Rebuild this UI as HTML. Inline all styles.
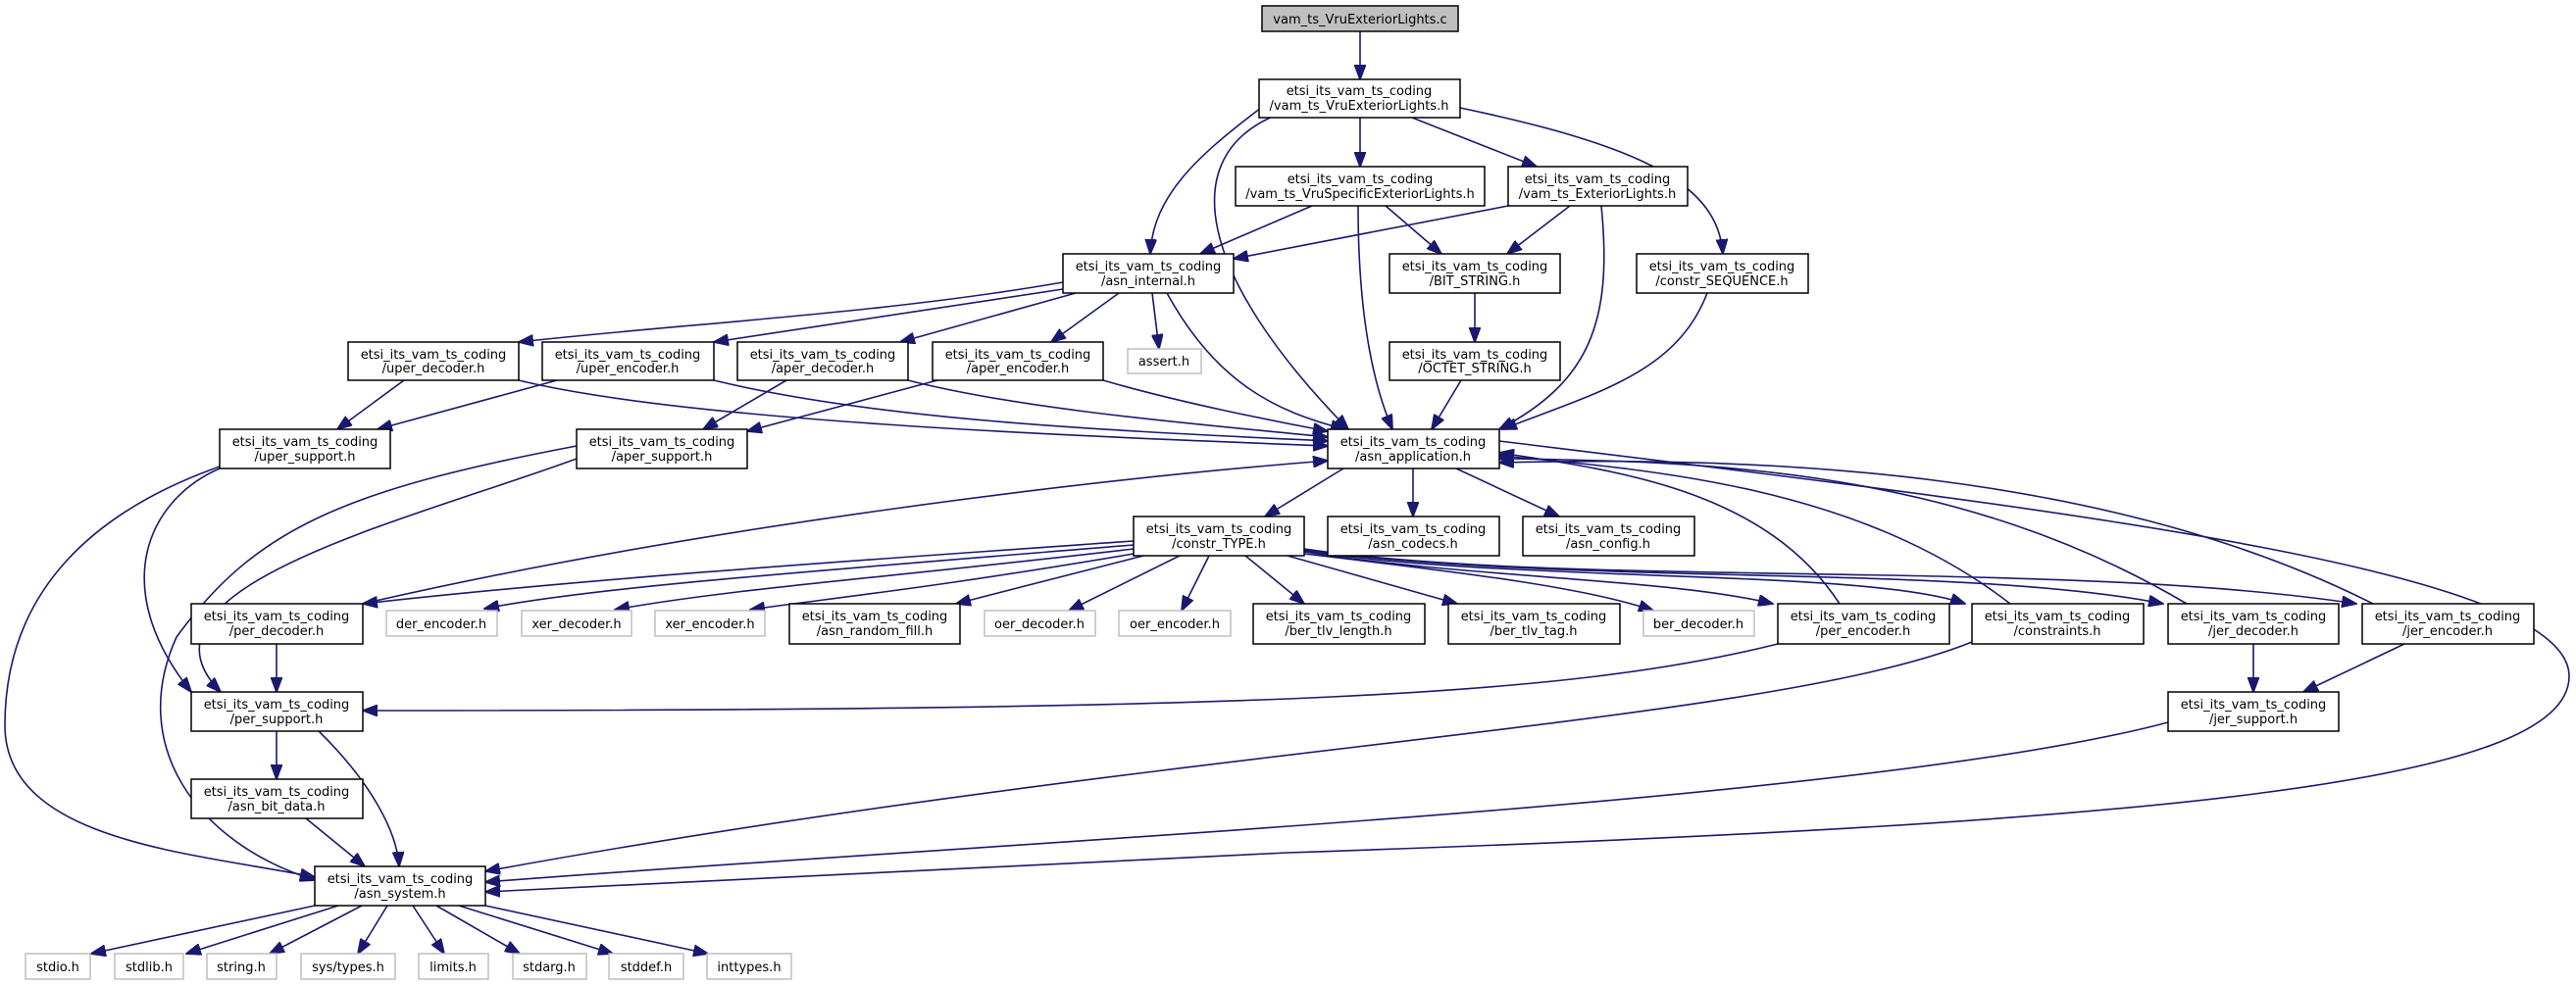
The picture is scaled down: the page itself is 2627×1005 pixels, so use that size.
<!DOCTYPE html>
<html><head><meta charset="utf-8"><style>
html,body{margin:0;padding:0;background:#fff;}
svg{display:block;}
text{font-family:"DejaVu Sans","Liberation Sans",sans-serif;font-size:13px;fill:#000;text-anchor:middle;}
.n{fill:#fff;stroke:#000;stroke-width:1.5;}
.g{fill:#fff;stroke:#bfbfbf;stroke-width:1.5;}
.e{fill:none;stroke:#191970;stroke-width:1.6;marker-end:url(#a);}
</style></head><body>
<svg width="2627" height="1005" viewBox="0 0 2627 1005" xmlns="http://www.w3.org/2000/svg">
<defs><marker id="a" markerUnits="userSpaceOnUse" markerWidth="16" markerHeight="12" refX="15" refY="6" orient="auto"><path d="M0,0 L16,6 L0,12 z" fill="#191970" stroke="#191970"/></marker></defs>

<path class="e" d="M1387,32 L1387,81"/>
<path class="e" d="M1286,110 C1220,160 1176,200 1173,259"/>
<path class="e" d="M1300,118 C1200,160 1220,280 1375,438"/>
<path class="e" d="M1387,120 L1387,170"/>
<path class="e" d="M1440,120 L1567,170"/>
<path class="e" d="M1489,110 C1680,150 1752,190 1757,259"/>
<path class="e" d="M1338,210 L1224,259"/>
<path class="e" d="M1413,210 L1470,259"/>
<path class="e" d="M1385,210 C1385,300 1395,380 1420,438"/>
<path class="e" d="M1538,210 L1258,264"/>
<path class="e" d="M1601,210 L1537,259"/>
<path class="e" d="M1633,210 C1645,330 1620,390 1529,438"/>
<path class="e" d="M1741,299 C1710,380 1630,400 1532,438"/>
<path class="e" d="M1504,299 L1504,349"/>
<path class="e" d="M1490,388 L1460,438"/>
<path class="e" d="M1084,288 C900,320 700,330 529,349"/>
<path class="e" d="M1084,295 L728,349"/>
<path class="e" d="M1097,299 L918,349"/>
<path class="e" d="M1141,299 L1072,349"/>
<path class="e" d="M1175,299 L1182,356"/>
<path class="e" d="M1190,299 C1240,390 1300,420 1372,438"/>
<path class="e" d="M412,388 L344,438"/>
<path class="e" d="M568,388 L385,438"/>
<path class="e" d="M802,388 L717,438"/>
<path class="e" d="M956,388 L762,440"/>
<path class="e" d="M529,388 C700,430 1100,445 1354,455"/>
<path class="e" d="M728,388 C900,430 1150,440 1354,450"/>
<path class="e" d="M926,388 C1050,420 1250,435 1354,446"/>
<path class="e" d="M1125,388 C1200,410 1300,430 1354,440"/>
<path class="e" d="M224,476 C100,520 5,600 5,740 C5,860 200,870 321,895"/>
<path class="e" d="M224,478 C150,510 110,600 195,706"/>
<path class="e" d="M588,468 C420,530 120,600 225,706"/>
<path class="e" d="M588,455 C350,500 260,540 180,650 C130,760 200,860 321,898"/>
<path class="e" d="M282,657 L282,706"/>
<path class="e" d="M282,746 L282,795"/>
<path class="e" d="M325,746 C380,800 405,850 407,884"/>
<path class="e" d="M312,835 L372,884"/>
<path class="e" d="M1813,657 C1600,710 1300,725 370,725"/>
<path class="e" d="M2011,655 C1800,740 1200,760 495,889"/>
<path class="e" d="M2211,737 C1900,820 1000,860 495,900"/>
<path class="e" d="M1529,450 C2100,520 2620,580 2620,690 C2620,800 2200,840 1313,870 C900,890 600,905 495,910"/>
<path class="e" d="M1370,478 L1290,527"/>
<path class="e" d="M1441,478 L1441,527"/>
<path class="e" d="M1485,478 L1590,527"/>
<path class="e" d="M370,616 C700,540 1100,490 1354,470"/>
<path class="e" d="M1876,616 C1800,500 1650,480 1529,462"/>
<path class="e" d="M2050,616 C1900,500 1700,480 1529,465"/>
<path class="e" d="M2230,616 C2000,480 1750,470 1529,468"/>
<path class="e" d="M2420,616 C2150,480 1800,465 1529,472"/>
<path class="e" d="M1156,552 C900,570 600,590 370,616"/>
<path class="e" d="M1156,556 C800,585 600,600 494,621"/>
<path class="e" d="M1156,560 C900,590 750,600 627,622"/>
<path class="e" d="M1156,565 C950,600 850,610 765,622"/>
<path class="e" d="M1166,567 L975,616"/>
<path class="e" d="M1203,567 L1090,623"/>
<path class="e" d="M1233,567 L1205,623"/>
<path class="e" d="M1270,567 L1330,616"/>
<path class="e" d="M1313,567 L1486,616"/>
<path class="e" d="M1330,565 C1500,585 1620,600 1686,623"/>
<path class="e" d="M1330,563 C1500,590 1700,590 1808,616"/>
<path class="e" d="M1330,562 C1550,595 1900,580 2004,616"/>
<path class="e" d="M1330,561 C1600,598 2000,575 2206,616"/>
<path class="e" d="M1330,560 C1600,600 2100,570 2403,616"/>
<path class="e" d="M2298,657 L2298,706"/>
<path class="e" d="M2452,657 L2349,706"/>
<path class="e" d="M321,924 L93,973"/>
<path class="e" d="M345,924 L190,973"/>
<path class="e" d="M369,924 L275,973"/>
<path class="e" d="M395,924 L365,973"/>
<path class="e" d="M421,924 L453,973"/>
<path class="e" d="M445,924 L530,973"/>
<path class="e" d="M468,924 L625,973"/>
<path class="e" d="M495,924 L722,973"/>

<rect x="1287" y="6" width="200" height="26" fill="#bfbfbf" stroke="#000" stroke-width="1.5"/>
<text x="1387" y="24">vam_ts_VruExteriorLights.c</text>

<g>
<rect class="n" x="1284" y="81" width="205" height="39"/><text x="1386" y="97">etsi_its_vam_ts_coding</text><text x="1386" y="112">/vam_ts_VruExteriorLights.h</text>
<rect class="n" x="1260" y="170" width="254" height="40"/><text x="1387" y="187">etsi_its_vam_ts_coding</text><text x="1387" y="202">/vam_ts_VruSpecificExteriorLights.h</text>
<rect class="n" x="1538" y="170" width="183" height="40"/><text x="1629" y="187">etsi_its_vam_ts_coding</text><text x="1629" y="202">/vam_ts_ExteriorLights.h</text>
<rect class="n" x="1084" y="259" width="174" height="40"/><text x="1171" y="276">etsi_its_vam_ts_coding</text><text x="1171" y="291">/asn_internal.h</text>
<rect class="n" x="1417" y="259" width="174" height="40"/><text x="1504" y="276">etsi_its_vam_ts_coding</text><text x="1504" y="291">/BIT_STRING.h</text>
<rect class="n" x="1669" y="259" width="175" height="40"/><text x="1756" y="276">etsi_its_vam_ts_coding</text><text x="1756" y="291">/constr_SEQUENCE.h</text>
<rect class="n" x="355" y="349" width="174" height="39"/><text x="442" y="366">etsi_its_vam_ts_coding</text><text x="442" y="380">/uper_decoder.h</text>
<rect class="n" x="553" y="349" width="175" height="39"/><text x="640" y="366">etsi_its_vam_ts_coding</text><text x="640" y="380">/uper_encoder.h</text>
<rect class="n" x="752" y="349" width="174" height="39"/><text x="839" y="366">etsi_its_vam_ts_coding</text><text x="839" y="380">/aper_decoder.h</text>
<rect class="n" x="951" y="349" width="174" height="39"/><text x="1038" y="366">etsi_its_vam_ts_coding</text><text x="1038" y="380">/aper_encoder.h</text>
<rect class="g" x="1150" y="356" width="75" height="25"/><text x="1187" y="373">assert.h</text>
<rect class="n" x="1417" y="349" width="174" height="39"/><text x="1504" y="366">etsi_its_vam_ts_coding</text><text x="1504" y="380">/OCTET_STRING.h</text>
<rect class="n" x="224" y="438" width="174" height="40"/><text x="311" y="455">etsi_its_vam_ts_coding</text><text x="311" y="470">/uper_support.h</text>
<rect class="n" x="588" y="438" width="174" height="40"/><text x="675" y="455">etsi_its_vam_ts_coding</text><text x="675" y="470">/aper_support.h</text>
<rect class="n" x="1354" y="438" width="175" height="40"/><text x="1441" y="455">etsi_its_vam_ts_coding</text><text x="1441" y="470">/asn_application.h</text>
<rect class="n" x="1156" y="527" width="174" height="40"/><text x="1243" y="544">etsi_its_vam_ts_coding</text><text x="1243" y="559">/constr_TYPE.h</text>
<rect class="n" x="1354" y="527" width="175" height="40"/><text x="1441" y="544">etsi_its_vam_ts_coding</text><text x="1441" y="559">/asn_codecs.h</text>
<rect class="n" x="1553" y="527" width="175" height="40"/><text x="1640" y="544">etsi_its_vam_ts_coding</text><text x="1640" y="559">/asn_config.h</text>

<rect class="n" x="195" y="616" width="175" height="41"/><text x="282" y="633">etsi_its_vam_ts_coding</text><text x="282" y="648">/per_decoder.h</text>
<rect class="g" x="394" y="623" width="113" height="26"/><text x="450" y="641">der_encoder.h</text>
<rect class="g" x="532" y="623" width="112" height="26"/><text x="588" y="641">xer_decoder.h</text>
<rect class="g" x="668" y="623" width="112" height="26"/><text x="724" y="641">xer_encoder.h</text>
<rect class="n" x="805" y="616" width="174" height="41"/><text x="892" y="633">etsi_its_vam_ts_coding</text><text x="892" y="648">/asn_random_fill.h</text>
<rect class="g" x="1004" y="623" width="113" height="26"/><text x="1060" y="641">oer_decoder.h</text>
<rect class="g" x="1141" y="623" width="114" height="26"/><text x="1198" y="641">oer_encoder.h</text>
<rect class="n" x="1278" y="616" width="175" height="41"/><text x="1365" y="633">etsi_its_vam_ts_coding</text><text x="1365" y="648">/ber_tlv_length.h</text>
<rect class="n" x="1477" y="616" width="175" height="41"/><text x="1564" y="633">etsi_its_vam_ts_coding</text><text x="1564" y="648">/ber_tlv_tag.h</text>
<rect class="g" x="1676" y="623" width="113" height="26"/><text x="1732" y="641">ber_decoder.h</text>
<rect class="n" x="1813" y="616" width="175" height="41"/><text x="1900" y="633">etsi_its_vam_ts_coding</text><text x="1900" y="648">/per_encoder.h</text>
<rect class="n" x="2011" y="616" width="175" height="41"/><text x="2098" y="633">etsi_its_vam_ts_coding</text><text x="2098" y="648">/constraints.h</text>
<rect class="n" x="2211" y="616" width="174" height="41"/><text x="2298" y="633">etsi_its_vam_ts_coding</text><text x="2298" y="648">/jer_decoder.h</text>
<rect class="n" x="2409" y="616" width="175" height="41"/><text x="2496" y="633">etsi_its_vam_ts_coding</text><text x="2496" y="648">/jer_encoder.h</text>

<rect class="n" x="195" y="706" width="175" height="40"/><text x="282" y="723">etsi_its_vam_ts_coding</text><text x="282" y="738">/per_support.h</text>
<rect class="n" x="2211" y="706" width="174" height="40"/><text x="2298" y="723">etsi_its_vam_ts_coding</text><text x="2298" y="738">/jer_support.h</text>
<rect class="n" x="195" y="795" width="175" height="40"/><text x="282" y="812">etsi_its_vam_ts_coding</text><text x="282" y="827">/asn_bit_data.h</text>
<rect class="n" x="321" y="884" width="174" height="40"/><text x="408" y="901">etsi_its_vam_ts_coding</text><text x="408" y="916">/asn_system.h</text>

<rect class="g" x="26" y="973" width="66" height="26"/><text x="59" y="991">stdio.h</text>
<rect class="g" x="117" y="973" width="70" height="26"/><text x="152" y="991">stdlib.h</text>
<rect class="g" x="211" y="973" width="71" height="26"/><text x="246" y="991">string.h</text>
<rect class="g" x="307" y="973" width="96" height="26"/><text x="355" y="991">sys/types.h</text>
<rect class="g" x="427" y="973" width="71" height="26"/><text x="462" y="991">limits.h</text>
<rect class="g" x="523" y="973" width="75" height="26"/><text x="560" y="991">stdarg.h</text>
<rect class="g" x="621" y="973" width="76" height="26"/><text x="659" y="991">stddef.h</text>
<rect class="g" x="721" y="973" width="86" height="26"/><text x="764" y="991">inttypes.h</text>
</g>
</svg>
</body></html>
